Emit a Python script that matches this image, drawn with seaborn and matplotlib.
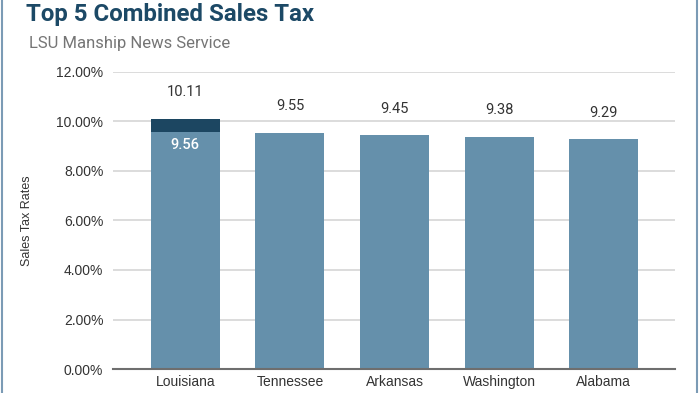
import matplotlib
matplotlib.use("Agg")
import matplotlib.pyplot as plt
import seaborn as sns
from matplotlib.lines import Line2D
from matplotlib.ticker import FuncFormatter

# data
states = ["Louisiana", "Tennessee", "Arkansas", "Washington", "Alabama"]
base_rates = [9.56, 9.55, 9.45, 9.38, 9.29]
total_rates = [10.11, 9.55, 9.45, 9.38, 9.29]
y_ticks = [0, 2, 4, 6, 8, 10, 12]

light = "#6590ab"
dark = "#1c4661"

sns.set_style("white")
plt.rcParams["font.family"] = ["Liberation Sans", "DejaVu Sans"]

fig = plt.figure(figsize=(6.99, 3.93), dpi=100)
ax = fig.add_axes([0.1617, 0.061, 0.804, 0.756])

# dark totals first, lighter base on top (only Louisiana shows the difference)
sns.barplot(x=states, y=total_rates, color=dark, saturation=1, width=0.66,
            linewidth=0, ax=ax)
sns.barplot(x=states, y=base_rates, color=light, saturation=1, width=0.66,
            linewidth=0, ax=ax)

ax.set_xlim(-0.69, 4.68)
ax.set_ylim(0, 12)
ax.set_yticks(y_ticks)
ax.yaxis.set_major_formatter(FuncFormatter(lambda v, p: f"{v:.2f}%"))
ax.grid(axis="y", color="#dcdcdc", linewidth=1.4)
ax.set_axisbelow(True)
for s in ["top", "right", "left"]:
    ax.spines[s].set_visible(False)
ax.spines["bottom"].set_color("#6e6e6e")
ax.spines["bottom"].set_linewidth(1.5)
ax.tick_params(axis="both", length=0, labelsize=10, colors="#333333", pad=7)
ax.tick_params(axis="x", pad=4)
ax.set_xlabel("")
ax.set_ylabel("Sales Tax Rates", fontsize=9, color="#333333", labelpad=17)

# value labels
for i, v in enumerate(total_rates):
    ax.annotate(f"{v:.2f}", (i, v), xytext=(0, 14), textcoords="offset points",
                ha="center", va="bottom", fontsize=10.5, color="#333333",
                family=["Roboto", "DejaVu Sans"])
ax.annotate(f"{base_rates[0]:.2f}", (0, base_rates[0]), xytext=(0, -4),
            textcoords="offset points", ha="center", va="top", fontsize=10.5,
            color="white", fontweight="medium", family=["Roboto", "DejaVu Sans"])

fig.text(0.037, 0.962, "Top 5 Combined Sales Tax", fontsize=17.3, fontweight="bold",
         color="#1c4966", ha="left", va="center", family=["Roboto", "DejaVu Sans"])
fig.text(0.041, 0.89, "LSU Manship News Service", fontsize=12, color="#757575",
         ha="left", va="center", family=["Roboto", "DejaVu Sans"])

# window border lines
for xpos in [0.003, 0.997]:
    fig.add_artist(Line2D([xpos, xpos], [0, 1], transform=fig.transFigure,
                          color="#7b9bb5", linewidth=1.5))

fig.savefig("out.png", dpi=100)
